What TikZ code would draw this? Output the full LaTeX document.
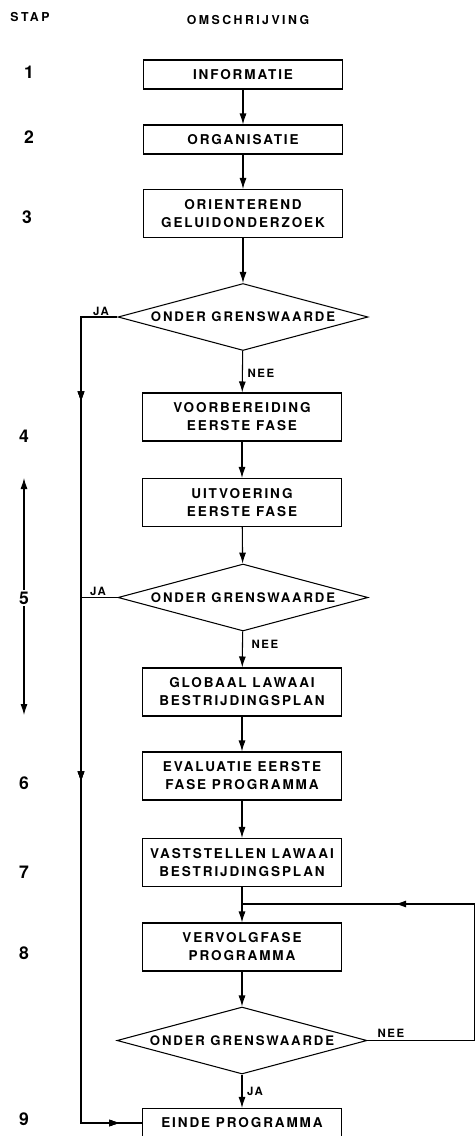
\documentclass[tikz,border=0pt]{standalone}
\usepackage{fontspec}
\setmainfont{TeX Gyre Heros}
\newfontfamily\spaced[LetterSpace=14]{TeX Gyre Heros}
\newfontfamily\wide[LetterSpace=20]{TeX Gyre Heros}
\usetikzlibrary{shapes.geometric,arrows.meta,decorations.markings}

\begin{document}
\begin{tikzpicture}[x=0.02cm, y=-0.02cm,
    box/.style={draw, line width=0.6pt, minimum width=3.98cm, minimum height=0.58cm,
        inner sep=1pt, align=center, font=\spaced\bfseries\fontsize{7.7}{10.2}\selectfont},
    tall/.style={box, minimum height=0.96cm},
    choice/.style={draw, diamond, shape aspect=3.7, line width=0.6pt, minimum width=5cm,
        minimum height=1.34cm, inner sep=0pt, font=\spaced\bfseries\fontsize{7.5}{10.2}\selectfont},
    flow/.style={line width=0.6pt, -{Latex[length=2.2mm,width=1.4mm]}},
    line/.style={line width=0.6pt},
    midtip/.style={postaction={decorate}, decoration={markings,
        mark=at position #1 with {\arrow{Latex[length=2.2mm,width=1.4mm]}}}},
    kop/.style={font=\wide\bfseries\fontsize{7}{8}\selectfont},
    stapnr/.style={font=\bfseries\fontsize{10}{12}\selectfont, inner sep=1pt},
    tag/.style={font=\spaced\bfseries\fontsize{6.5}{8}\selectfont, inner sep=1pt}]

    \useasboundingbox (0,0) rectangle (475,1136);

    % --- HEADERS ---
    \node[kop] (stap) at (30,17) {STAP};
    \node[kop] (omschr) at (248,20) {OMSCHRIJVING};

    % --- STEP NUMBERS ---
    \foreach \nr/\x/\y in {1/29/72, 2/29/137, 3/27/217, 4/24/436, 6/24/783,
                           7/24/872, 8/24/953, 9/24/1119}
        \node[stapnr] (s\nr) at (\x,\y) {\nr};
    \node[stapnr] (s5) at (24,598) {5};
    \coordinate (faseTop) at (24,478);
    \coordinate (faseBot) at (24,715);
    \draw[flow] (s5) -- (faseTop);
    \draw[flow] (s5) -- (faseBot);

    % --- MAIN COLUMN ---
    \node[box]  (info)    at (243,74.5)  {INFORMATIE};
    \node[box]  (org)     at (243,139.5) {ORGANISATIE};
    \node[tall] (orient)  at (243,213.5) {ORIENTEREND\\GELUIDONDERZOEK};
    \node[choice] (d1)    at (243,317)   {ONDER GRENSWAARDE};
    \node[tall] (voorb)   at (242,417)   {VOORBEREIDING\\EERSTE FASE};
    \node[tall] (uitv)    at (242,502.5) {UITVOERING\\EERSTE FASE};
    \node[choice] (d2)    at (243,597.5) {ONDER GRENSWAARDE};
    \node[tall] (glob)    at (242,692)   {GLOBAAL LAWAAI\\BESTRIJDINGSPLAN};
    \node[tall] (eval)    at (242,776)   {EVALUATIE EERSTE\\FASE PROGRAMMA};
    \node[tall] (vast)    at (242,862.5) {VASTSTELLEN LAWAAI\\BESTRIJDINGSPLAN};
    \node[tall] (vervolg) at (242,947)   {VERVOLGFASE\\PROGRAMMA};
    \node[choice] (d3)    at (242,1040.5) {ONDER GRENSWAARDE};
    \node[box]  (einde)   at (242,1123)  {EINDE PROGRAMMA};

    \draw[flow] (info) -- (org);
    \draw[flow] (org) -- (orient);
    \draw[flow] (orient) -- (d1);
    \draw[flow] (d1) -- (voorb);
    \draw[flow] (voorb) -- (uitv);
    \draw[flow] (uitv) -- (d2);
    \draw[flow] (d2) -- (glob);
    \draw[flow] (glob) -- (eval);
    \draw[flow] (eval) -- (vast);
    \draw[flow] (vast) -- (vervolg);
    \draw[flow] (vervolg) -- (d3);
    \draw[flow] (d3) -- (einde);

    % labels
    \node[tag] (ja1)  at (101,311)  {JA};
    \node[tag] (nee1) at (261,373)  {NEE};
    \node[tag] (ja2)  at (98,591)   {JA};
    \node[tag] (nee2) at (265,644)  {NEE};
    \node[tag] (nee3) at (391,1033) {NEE};
    \node[tag] (ja3)  at (255,1091) {JA};

    % --- JA BRANCH (LEFT) ---
    \coordinate (jaA)   at (81,317);
    \coordinate (jaB)   at (81,597.5);
    \coordinate (hoek)  at (81,1123);
    \draw[line, midtip=2.44cm, midtip=10.04cm, midtip=17.64cm]
        (d1.west) -- (jaA) -- (hoek) -- (einde.west);
    \draw[line] (d2.west) -- (jaB);

    % --- NEE LOOP (RIGHT) ---
    \coordinate (terugO) at (474.5,1040.5);
    \coordinate (terugB) at (474.5,904);
    \coordinate (samen)  at (242,904);
    \draw[line, midtip=6.46cm] (d3.east) -- (terugO) -- (terugB) -- (samen);
\end{tikzpicture}
\end{document}
